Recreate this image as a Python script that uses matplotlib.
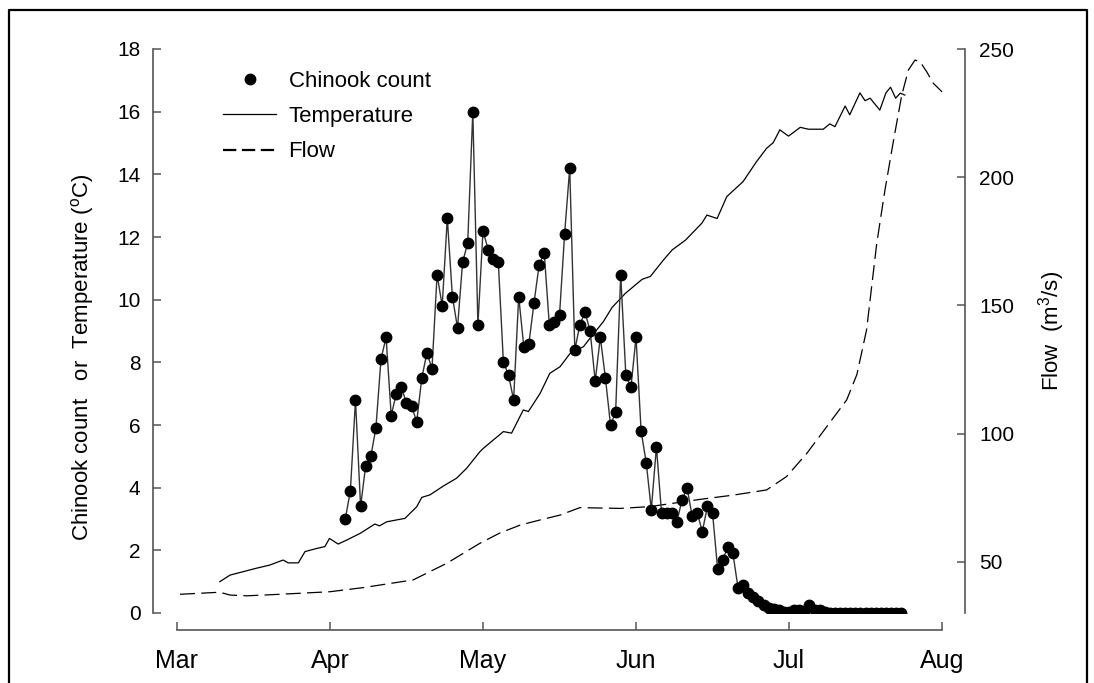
import matplotlib
matplotlib.use("Agg")
import matplotlib.pyplot as plt
from matplotlib.lines import Line2D
import numpy as np

plt.rcParams['font.family'] = ['Liberation Sans', 'DejaVu Sans']
plt.rcParams['mathtext.fontset'] = 'custom'
plt.rcParams['mathtext.rm'] = 'Liberation Sans'

# day of year, ticks every 30 days
month_ticks = [60, 90, 120, 150, 180, 210]
month_labels = ['Mar', 'Apr', 'May', 'Jun', 'Jul', 'Aug']

chinook_start = 93
chinook = [3.0, 3.9, 6.8, 3.4, 4.7, 5.0, 5.9, 8.1, 8.8, 6.3,
           7.0, 7.2, 6.7, 6.6, 6.1, 7.5, 8.3, 7.8, 10.8, 9.8,
           12.6, 10.1, 9.1, 11.2, 11.8, 16.0, 9.2, 12.2, 11.6, 11.3,
           11.2, 8.0, 7.6, 6.8, 10.1, 8.5, 8.6, 9.9, 11.1, 11.5,
           9.2, 9.3, 9.5, 12.1, 14.2, 8.4, 9.2, 9.6, 9.0, 7.4,
           8.8, 7.5, 6.0, 6.4, 10.8, 7.6, 7.2, 8.8, 5.8, 4.8,
           3.3, 5.3, 3.2, 3.2, 3.2, 2.9, 3.6, 4.0, 3.1, 3.2,
           2.6, 3.4, 3.2, 1.4, 1.7, 2.1, 1.9, 0.8, 0.9, 0.65,
           0.5, 0.38, 0.24, 0.17, 0.12, 0.08, 0.04, 0.02, 0.1, 0.08,
           0.05, 0.25, 0.1, 0.1, 0.02, 0, 0, 0, 0, 0,
           0, 0, 0, 0, 0, 0, 0, 0, 0, 0]
chinook_days = np.arange(chinook_start, chinook_start + len(chinook))

temp_days = [68.4, 70.4, 73.0, 75.6, 78.2, 80.8, 81.8, 83.8, 85.1, 87.4,
             89.0, 89.9, 91.6, 93.3, 95.9, 98.8, 99.7, 101.1, 104.7, 107.0,
             108.0, 109.6, 112.2, 114.8, 116.8, 119.4, 120.1, 124.0, 125.6, 127.9,
             128.9, 131.2, 133.1, 135.1, 137.1, 139.7, 141.0, 143.6, 145.3, 147.9,
             151.2, 152.8, 155.4, 157.1, 159.7, 162.9, 163.9, 165.9, 167.8, 171.0,
             173.6, 175.6, 176.9, 178.2, 179.9, 182.2, 183.8, 186.7, 188.0, 189.0,
             191.0, 191.9, 193.9, 194.9, 195.9, 197.8, 199.0, 199.9, 200.9, 201.8,
             202.7]
temp = [1.0, 1.21, 1.32, 1.43, 1.53, 1.69, 1.6, 1.6, 1.96, 2.06,
        2.12, 2.38, 2.2, 2.33, 2.54, 2.84, 2.78, 2.91, 3.02, 3.39,
        3.69, 3.77, 4.05, 4.3, 4.62, 5.15, 5.26, 5.79, 5.74, 6.48,
        6.43, 7.01, 7.65, 7.86, 8.29, 8.5, 8.77, 9.3, 9.75, 10.2,
        10.65, 10.74, 11.27, 11.59, 11.9, 12.44, 12.7, 12.59, 13.29, 13.77,
        14.4, 14.83, 15.01, 15.42, 15.22, 15.5, 15.44, 15.44, 15.61, 15.52,
        16.18, 15.9, 16.6, 16.35, 16.43, 16.05, 16.6, 16.78, 16.43, 16.59,
        16.53]

flow_days = [60.6, 68.4, 70.4, 73.7, 80.2, 90.0, 96.5, 106.3, 112.9, 119.4,
             123.3, 127.3, 131.2, 135.1, 139.0, 146.9, 152.7, 162.5, 169.1, 175.6,
             179.5, 183.5, 187.4, 191.3, 193.3, 195.2, 196.2, 197.2, 198.8, 200.5,
             202.1, 203.4, 204.7, 205.7, 207.0, 208.3, 210.0]
flow = [37.3, 38.1, 37.0, 36.7, 37.3, 38.3, 39.9, 42.9, 49.4, 57.2,
        61.2, 64.3, 66.3, 68.2, 71.1, 70.8, 71.5, 74.3, 76.0, 78.0,
        83.2, 92.3, 102.7, 113.1, 123.0, 140.4, 157.3, 174.2, 194.9, 214.5,
        232.0, 241.8, 245.7, 245.0, 241.1, 236.6, 233.3]

fig = plt.figure(figsize=(10.94, 6.83), dpi=100)
ax = fig.add_axes([153/1094, 1-613/683, 812/1094, 564/683])
ax2 = ax.twinx()
ax.set_zorder(ax2.get_zorder() + 1)
ax.patch.set_visible(False)

ax.plot(temp_days, temp, color='black', lw=0.9)
ax.plot(chinook_days, chinook, color='#333333', lw=1.0, marker='o', ms=7.5,
        mfc='black', mec='black')
ax2.plot(flow_days, flow, color='black', lw=0.9, dashes=(12, 5))

ax.set_xlim(55.3, 214.5)
ax.set_ylim(0, 18)
ax2.set_ylim(30, 250)

spine_col = '#555555'
for a in (ax, ax2):
    for s in a.spines.values():
        s.set_color(spine_col)
        s.set_linewidth(1.2)
    a.spines['top'].set_visible(False)
ax.spines['right'].set_visible(False)
ax2.spines['left'].set_visible(False)
ax2.spines['bottom'].set_visible(False)
ax.spines['bottom'].set_position(('outward', 12))
ax.spines['bottom'].set_bounds(60, 210)
ax.spines['left'].set_bounds(0, 18)

ax.set_xticks(month_ticks)
ax.set_xticklabels(month_labels)
ax.set_yticks(range(0, 19, 2))
ax2.set_yticks([50, 100, 150, 200, 250])
ax.tick_params(axis='x', direction='in', length=6, width=1.1, color=spine_col,
               labelsize=18, pad=14)
ax.tick_params(axis='y', direction='in', length=6, width=1.1, color=spine_col,
               labelsize=15, pad=9)
ax2.tick_params(axis='y', direction='in', length=6, width=1.1, color=spine_col,
                labelsize=15, pad=10)

fig.text(83/1094, 1-357/683, 'Chinook count   or  Temperature ($^{\\mathrm{o}}$C)',
         rotation=90, ha='center', va='center', fontsize=16)
fig.text(1052/1094, 1-331/683, 'Flow  (m$^3$/s)',
         rotation=90, ha='center', va='center', fontsize=16)

handles = [Line2D([], [], ls='none', marker='o', ms=7.5, color='black'),
           Line2D([], [], color='black', lw=0.9),
           Line2D([], [], color='black', lw=1.6, dashes=(6, 2.5))]
ax.legend(handles, ['Chinook count', 'Temperature', 'Flow'],
          loc='upper left', bbox_to_anchor=(223/1094, 1-71/683),
          bbox_transform=fig.transFigure, frameon=False, fontsize=16,
          handlelength=2.4, handletextpad=0.55, labelspacing=0.64,
          borderpad=0, borderaxespad=0)

# outer frame
fig.add_artist(Line2D([9/1094, 9/1094, 1087/1094, 1087/1094], [0, 1-10/683, 1-10/683, 0],
                      transform=fig.transFigure, color='black', lw=1.6))

fig.savefig('out.png', dpi=100)
